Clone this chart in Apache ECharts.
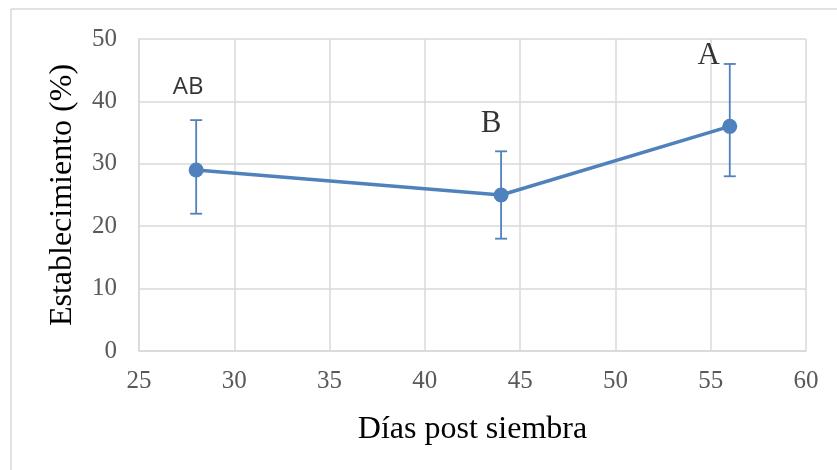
<!DOCTYPE html>
<html><head><meta charset="utf-8">
<script src="https://cdn.jsdelivr.net/npm/echarts@6/dist/echarts.min.js"></script>
<style>html,body{margin:0;padding:0;background:#fff}#c{width:837px;height:470px}</style>
</head><body><div id="c"></div>
<script>
const days = [28, 44, 56];
const establecimiento = [29, 25, 36];
const errLow = [22, 18, 28];
const errHigh = [37, 32, 46];
const letters = ['AB', 'B', 'A'];
const xTicks = [25, 30, 35, 40, 45, 50, 55, 60];
const yTicks = [0, 10, 20, 30, 40, 50];

const chart = echarts.init(document.getElementById('c'));
const blue = '#4F81BD';
const serif = '"Liberation Serif","Times New Roman",serif';
chart.setOption({
  animation: false,
  graphic: [
    {type: 'line', shape: {x1: 11, y1: 9, x2: 837, y2: 9}, style: {stroke: '#d9d9d9', lineWidth: 1.5}},
    {type: 'line', shape: {x1: 11, y1: 9, x2: 11, y2: 470}, style: {stroke: '#d9d9d9', lineWidth: 1.5}}
  ],
  grid: {left: 139, right: 31, top: 39, bottom: 119},
  xAxis: {
    type: 'value', min: xTicks[0], max: xTicks[xTicks.length - 1], interval: 5,
    name: 'Días post siembra', nameLocation: 'middle', nameGap: 63,
    nameTextStyle: {fontFamily: serif, fontSize: 32, color: '#000'},
    axisLine: {show: true, lineStyle: {color: '#d9d9d9', width: 1.5}},
    axisTick: {show: false},
    axisLabel: {fontFamily: serif, fontSize: 25, color: '#595959', margin: 18},
    splitLine: {show: true, lineStyle: {color: '#d9d9d9', width: 1.5}}
  },
  yAxis: {
    type: 'value', min: yTicks[0], max: yTicks[yTicks.length - 1], interval: 10,
    name: 'Establecimiento (%)', nameLocation: 'middle', nameGap: 60,
    nameTextStyle: {fontFamily: serif, fontSize: 32, color: '#000'},
    axisLine: {show: true, lineStyle: {color: '#d9d9d9', width: 1.5}},
    axisTick: {show: false},
    axisLabel: {fontFamily: serif, fontSize: 25, color: '#595959', margin: 22},
    splitLine: {show: true, lineStyle: {color: '#d9d9d9', width: 1.5}}
  },
  series: [
    {
      type: 'custom',
      data: days.map((d, i) => [d, errLow[i], errHigh[i]]),
      renderItem: function (params, api) {
        const x = api.value(0);
        const lo = api.coord([x, api.value(1)]);
        const hi = api.coord([x, api.value(2)]);
        const w = 6;
        const st = {stroke: blue, lineWidth: 1.8, fill: null};
        return {type: 'group', children: [
          {type: 'line', shape: {x1: lo[0], y1: lo[1], x2: hi[0], y2: hi[1]}, style: st},
          {type: 'line', shape: {x1: lo[0] - w, y1: lo[1], x2: lo[0] + w, y2: lo[1]}, style: st},
          {type: 'line', shape: {x1: hi[0] - w, y1: hi[1], x2: hi[0] + w, y2: hi[1]}, style: st}
        ]};
      },
      z: 2
    },
    {
      type: 'line',
      data: days.map((d, i) => [d, establecimiento[i]]),
      symbol: 'circle', symbolSize: 15,
      lineStyle: {color: blue, width: 3.5},
      itemStyle: {color: blue},
      z: 3
    },
    {
      type: 'scatter',
      symbolSize: 0,
      data: [
        {value: [days[0], errHigh[0]], label: {offset: [-8, -33], fontFamily: '"Open Sans","Liberation Sans",sans-serif', fontSize: 24}},
        {value: [days[1], errHigh[1]], label: {offset: [-10, -27]}},
        {value: [days[2], errHigh[2]], label: {offset: [-21, -8]}}
      ],
      label: {
        show: true, position: 'inside',
        formatter: p => letters[p.dataIndex],
        fontFamily: serif, fontSize: 31, color: '#000'
      },
      z: 4
    }
  ]
});
</script></body></html>
